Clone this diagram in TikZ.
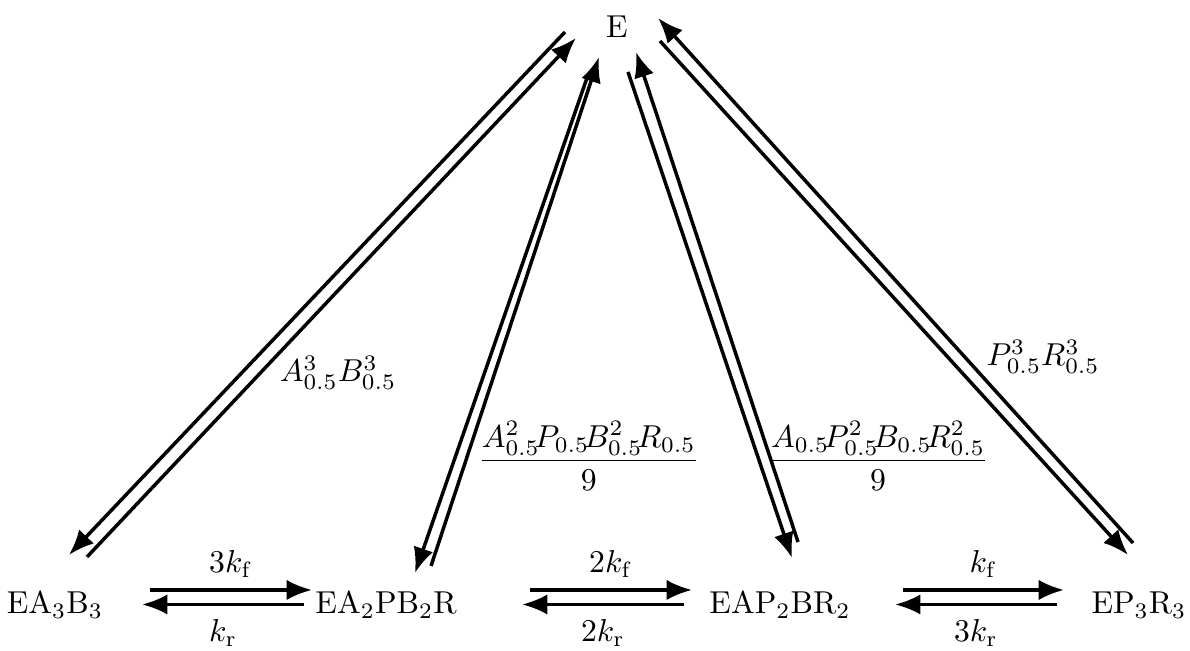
\documentclass[tikz,border=0pt]{standalone}
\usepackage{tikz}
\usetikzlibrary{arrows.meta, positioning}

\begin{document}
\begin{tikzpicture}[
  rxn/.style={-{Latex[length=8pt,width=6.4pt]}, line width=1.1pt},
  species/.style={anchor=base, inner sep=0pt}
]
  \useasboundingbox (0,0) rectangle (13.2,7.21);
  % species
  \node[species] (E) at (6.844,6.789) {E};
  \node[species] (ea3b3) at (0.610,0.40) {EA$_3$B$_3$};
  \node[species] (ea2pb2r) at (4.282,0.40) {EA$_2$PB$_2$R};
  \node[species] (eap2br2) at (8.652,0.40) {EAP$_2$BR$_2$};
  \node[species] (ep3r3) at (12.634,0.40) {EP$_3$R$_3$};

  % bottom row
  \draw[rxn] ([shift={(1.054,0.266)}]ea3b3.base) -- node[above] (kf1) {$3k_\mathrm{f}$} ([shift={(-0.821,0.266)}]ea2pb2r.base);
  \draw[rxn] ([shift={(-0.910,0.105)}]ea2pb2r.base) -- node[below=1pt] (kr1) {$k_\mathrm{r}$} ([shift={(0.965,0.105)}]ea3b3.base);
  \draw[rxn] ([shift={(1.597,0.266)}]ea2pb2r.base) -- node[above] (kf2) {$2k_\mathrm{f}$} ([shift={(-0.976,0.266)}]eap2br2.base);
  \draw[rxn] ([shift={(-1.065,0.105)}]eap2br2.base) -- node[below=1pt] (kr2) {$2k_\mathrm{r}$} ([shift={(1.508,0.105)}]ea2pb2r.base);
  \draw[rxn] ([shift={(1.365,0.266)}]eap2br2.base) -- node[above] (kf3) {$k_\mathrm{f}$} ([shift={(-0.831,0.266)}]ep3r3.base);
  \draw[rxn] ([shift={(-0.909,0.105)}]ep3r3.base) -- node[below=1pt] (kr3) {$3k_\mathrm{r}$} ([shift={(1.276,0.105)}]eap2br2.base);

  % to and from E
  \draw[rxn] ([shift={(-0.577,0.066)}]E.base) -- ([shift={(0.155,0.654)}]ea3b3.base);
  \draw[rxn] ([shift={(0.355,0.632)}]ea3b3.base) -- ([shift={(-0.455,0)}]E.base);
  \draw[rxn] ([shift={(-0.333,-0.444)}]E.base) -- ([shift={(0.321,0.454)}]ea2pb2r.base);
  \draw[rxn] ([shift={(0.499,0.532)}]ea2pb2r.base) -- ([shift={(-0.199,-0.211)}]E.base);
  \draw[rxn] ([shift={(0.122,-0.377)}]E.base) -- ([shift={(0.133,0.621)}]eap2br2.base);
  \draw[rxn] ([shift={(0.200,0.798)}]eap2br2.base) -- ([shift={(0.211,-0.156)}]E.base);
  \draw[rxn] ([shift={(0.477,-0.034)}]E.base) -- ([shift={(-0.122,0.654)}]ep3r3.base);
  \draw[rxn] ([shift={(-0.066,0.787)}]ep3r3.base) -- ([shift={(0.455,0.222)}]E.base);

  \node (rate1) at (3.75,3.073) {$A^3_{0.5}B^3_{0.5}$};
  \node[inner sep=1pt] (rate2) at (6.53,2.152) {$\displaystyle\frac{A^2_{0.5}\!P_{0.5}\!B^2_{0.5}\!R_{0.5}}{9}$};
  \node[inner sep=1pt] (rate3) at (9.74,2.152) {$\displaystyle\frac{A_{0.5}\!P^2_{0.5}\!B_{0.5}\!R^2_{0.5}}{9}$};
  \node (rate4) at (11.57,3.25) {$P^3_{0.5}R^3_{0.5}$};
\end{tikzpicture}
\end{document}
